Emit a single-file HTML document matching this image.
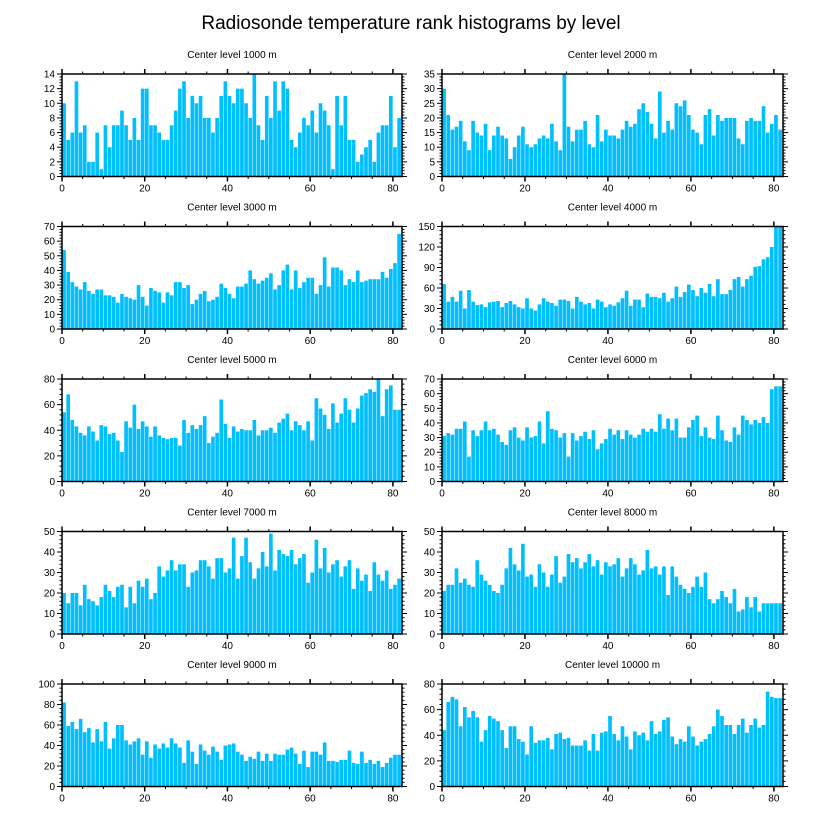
<!DOCTYPE html>
<html><head><meta charset="utf-8"><style>
body{margin:0;background:#fff;}
svg text{font-family:"Liberation Sans",Arial,sans-serif;fill:#000;}
</style></head><body>
<svg id="chart" width="822" height="824" viewBox="0 0 822 824" xmlns="http://www.w3.org/2000/svg">
<rect width="822" height="824" fill="#fff"/>
<text x="411" y="29" font-size="19" text-anchor="middle">Radiosonde temperature rank histograms by level</text>
</svg>
<script>
const levels = ["1000","2000","3000","4000","5000","6000","7000","8000","9000","10000"];
const yMaxes = [14,35,70,150,80,70,50,50,100,80];
const ySteps = [2,5,10,30,20,10,10,10,20,20];
const xTicks = [0,20,40,60,80];
const s1000 = [10,5,6,13,6,7,2,2,6,1,7,4,7,7,9,7,5,8,5,12,12,7,7,6,5,5,7,9,12,13,8,11,10,11,8,8,6,8,11,13,11,10,12,12,10,8,14,7,5,11,8,13,9,13,12,5,4,6,8,7,9,6,10,9,7,1,11,7,11,5,5,2,3,4,5,2,6,7,7,11,4,8];
const s2000 = [30,21,16,17,19,12,9,19,15,14,18,9,14,17,14,13,6,10,14,17,11,10,11,13,14,13,18,12,9,35,17,12,16,16,19,11,10,21,12,16,14,14,13,16,19,17,18,23,25,22,18,13,29,15,19,16,25,24,26,21,16,15,11,21,23,14,21,19,20,20,20,13,11,19,20,19,19,24,15,18,21,16];
const s3000 = [54,39,32,29,27,32,26,24,27,27,23,23,22,18,24,22,21,20,30,22,16,28,26,25,18,25,23,32,32,28,30,17,20,24,26,19,20,22,31,28,24,21,29,29,31,40,34,31,33,35,38,27,30,40,44,27,40,28,32,35,35,24,30,49,29,42,42,40,30,34,32,40,32,33,34,34,34,39,35,41,45,65];
const s4000 = [66,40,47,40,56,30,57,40,35,36,32,39,40,41,32,38,41,36,32,30,45,30,27,36,45,40,38,34,43,43,41,30,47,40,36,38,30,43,40,32,36,34,39,45,56,34,43,43,32,52,47,47,45,53,40,45,62,47,54,65,57,48,60,53,66,48,73,51,51,57,73,76,62,73,78,91,92,102,105,120,150,150];
const s5000 = [54,68,48,43,38,36,43,39,32,44,43,37,38,32,23,47,42,60,41,47,43,35,43,36,34,33,34,34,28,48,38,44,41,44,51,30,35,38,64,45,34,43,39,41,40,40,48,36,40,40,42,38,46,49,53,40,47,44,40,47,32,65,57,52,41,61,46,53,65,56,46,57,67,69,72,70,80,51,72,75,56,56];
const s6000 = [31,33,32,36,36,41,17,35,31,35,41,35,36,32,27,25,35,37,30,28,37,30,31,41,26,48,36,35,30,33,17,33,28,31,34,29,35,22,26,29,36,32,35,29,35,32,30,32,36,34,36,34,46,36,43,35,43,30,30,37,42,45,31,37,30,29,45,35,28,27,37,32,45,42,39,42,40,44,40,63,65,65];
const s7000 = [20,15,20,20,14,24,17,16,14,18,24,21,18,23,24,13,23,15,26,23,27,17,20,33,28,31,36,31,34,34,23,30,31,36,36,33,27,37,37,30,32,47,27,38,47,35,27,32,40,33,49,31,41,39,38,41,34,37,39,25,30,46,32,42,30,34,36,28,33,36,22,32,26,29,21,35,29,26,31,22,24,27];
const s8000 = [21,24,24,32,25,27,24,23,36,29,26,24,21,20,24,32,42,34,31,44,28,29,23,34,30,23,29,38,25,28,39,35,37,32,35,39,33,36,29,35,33,34,37,28,32,37,34,29,31,41,32,33,29,33,19,33,28,24,22,20,23,28,23,30,17,15,17,21,18,15,22,11,12,18,13,18,11,15,15,15,15,15];
const s9000 = [82,59,63,56,66,53,57,43,56,44,63,37,47,60,60,45,41,44,47,31,44,28,41,37,42,38,47,42,38,23,45,34,22,41,35,31,39,34,26,40,41,42,34,31,25,29,27,34,25,32,25,32,31,31,36,38,32,22,35,19,34,34,31,43,25,25,24,26,26,35,23,22,34,23,26,22,25,19,23,28,31,31];
const s10000 = [44,66,70,68,47,62,54,59,54,35,44,55,53,51,44,30,47,47,37,35,25,47,34,36,36,38,29,41,42,37,38,32,32,32,36,28,41,28,42,43,55,41,36,47,39,29,43,40,42,36,51,41,43,52,54,39,33,37,35,47,39,32,35,37,41,47,60,55,48,48,41,48,53,42,48,53,46,48,74,70,69,69];
const series = [s1000,s2000,s3000,s4000,s5000,s6000,s7000,s8000,s9000,s10000];

const NS="http://www.w3.org/2000/svg";
const svg=document.getElementById('chart');
function mk(tag,attrs,parent){const e=document.createElementNS(NS,tag);for(const k in attrs)e.setAttribute(k,attrs[k]);(parent||svg).appendChild(e);return e;}
const colX=[62,442], colW=[340,341];
const rowY=[74,226.5,379,531.5,684], H=102.5;
const XMIN=0, XMAX=82.2;
for(let p=0;p<10;p++){
  const c=p%2, r=Math.floor(p/2);
  const L=colX[c], W=colW[c], T=rowY[r], B=T+H;
  const ymax=yMaxes[p], step=ySteps[p], data=series[p];
  const sx=v=>L+(v-XMIN)/(XMAX-XMIN)*W;
  const sy=v=>B-v/ymax*H;
  const g=mk('g',{});
  
  
  const t=mk('text',{x:L+W/2,y:T-16,'font-size':10,'text-anchor':'middle'},g);
  
  
  t.textContent='Center level '+levels[p]+' m';
  data.forEach((v,i)=>{
    const b=mk('rect',{x:sx(i+0.06),y:sy(v),width:sx(i+0.94)-sx(i+0.06),height:B-sy(v),fill:'#00BFFF'},g);
    
    
  });
  // y ticks
  for(let v=0;v<=ymax+1e-9;v+=step/5){
    const major=Math.abs(v/step-Math.round(v/step))<1e-6;
    const len=major?5:2.5;
    mk('line',{x1:L,x2:L-len,y1:sy(v),y2:sy(v),stroke:'#000','stroke-width':1},g);
    mk('line',{x1:L+W,x2:L+W+len,y1:sy(v),y2:sy(v),stroke:'#000','stroke-width':1},g);
    if(major){
      const yl=mk('text',{x:L-7,y:sy(v)+3.5,'font-size':10,'text-anchor':'end'},g);
      
      
      yl.textContent=Math.round(v);
    }
  }
  // x ticks
  for(let v=0;v<=XMAX;v+=5){
    const major=v%20===0;
    const len=major?5:2.5;
    mk('line',{x1:sx(v),x2:sx(v),y1:B,y2:B+len,stroke:'#000','stroke-width':major?1.5:1},g);
    mk('line',{x1:sx(v),x2:sx(v),y1:T,y2:T-len,stroke:'#000','stroke-width':major?1.5:1},g);
  }
  xTicks.forEach(v=>{
    const xl=mk('text',{x:sx(v),y:B+15,'font-size':10,'text-anchor':'middle'},g);
    
    
    xl.textContent=v;
  });
  const f=mk('rect',{x:L,y:T,width:W,height:H,fill:'none',stroke:'#000','stroke-width':1.5},g);
  
  
}
</script>
</body></html>
